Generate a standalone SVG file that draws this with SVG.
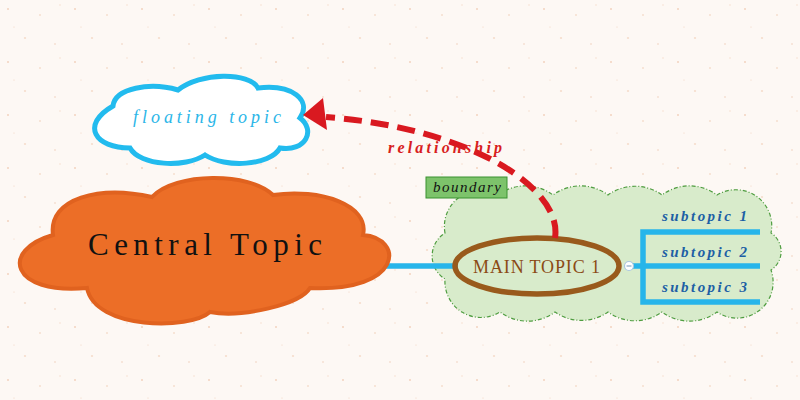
<svg xmlns="http://www.w3.org/2000/svg" width="800" height="400" viewBox="0 0 800 400">
<defs>
<pattern id="speck" width="67" height="53" patternUnits="userSpaceOnUse">
<rect width="67" height="53" fill="#fdf8f4"/>
<circle cx="8" cy="9" r="1" fill="#f3d3bf"/>
<circle cx="40" cy="15" r="0.8" fill="#f0cdb6"/>
<circle cx="25" cy="38" r="1.1" fill="#f6ddcc"/>
<circle cx="55" cy="44" r="0.8" fill="#f1d0bb"/>
<circle cx="60" cy="5" r="0.7" fill="#f5dbc9"/>
<circle cx="14" cy="27" r="0.6" fill="#f2d4c0"/>
</pattern>
<style>
.lnk{fill:none;stroke:#27b5ea;stroke-width:5.5}
.sub{font-family:"Liberation Serif",serif;font-size:15px;font-style:italic;font-weight:bold;fill:#1d5fa5}
.ser{font-family:"Liberation Serif",serif}
</style>
</defs>
<rect width="800" height="400" fill="url(#speck)"/>

<g id="boundary">
<path d="M445,233 A36,36 0 0 1 498,195 A46,46 0 0 1 553,195 A46,46 0 0 1 608,195 A46,46 0 0 1 662,195 A46,46 0 0 1 717,195 A36,36 0 0 1 771,233 A22,22 0 0 1 771,270 A36,36 0 0 1 717,312 A46,46 0 0 1 662,312 A46,46 0 0 1 608,312 A46,46 0 0 1 555,312 A46,46 0 0 1 500,312 A36,36 0 0 1 445,279 A27,27 0 0 1 445,233 Z" fill="#d8ebcb" stroke="#4f9d40" stroke-width="1.2" stroke-dasharray="4 2 1 2"/>
</g>

<g id="connectors">
<line class="lnk" x1="386" y1="266" x2="458" y2="266"/>
<line class="lnk" x1="632" y1="266" x2="643" y2="266"/>
<path class="lnk" d="M760,232 H643 V302 H760 M643,266 H760"/>
</g>

<g id="central-topic">
<path d="M53,235 C48,198 100,185 152,197 C175,172 250,172 273,195 C320,188 370,205 363,235 C404,238 404,292 310,288 C300,305 240,318 210,312 C190,330 95,330 87,288 C10,295 0,250 53,235 Z" fill="#ec6e27" stroke="#e0621f" stroke-width="4"/>
<text class="ser" x="88" y="255" font-size="31" fill="#111" textLength="234">Central Topic</text>
</g>

<g id="floating-topic">
<path d="M113,106 C115,88 150,82 178,90 C200,72 250,72 258,88 C292,84 312,100 300,118 C316,130 306,152 280,148 C270,166 225,168 205,155 C185,168 140,166 130,148 C95,148 80,125 113,106 Z" fill="#fff" stroke="#22bbee" stroke-width="5"/>
<text class="ser" x="133" y="123" font-size="18" font-style="italic" fill="#2bb6e8" textLength="148">floating topic</text>
</g>

<g id="main-topic">
<ellipse cx="537" cy="266" rx="82" ry="28" fill="none" stroke="#995a1c" stroke-width="5.5"/>
<text class="ser" x="473" y="273" font-size="18" fill="#8b4a15" textLength="127">MAIN TOPIC 1</text>
<circle cx="629" cy="266" r="4.5" fill="#fff" stroke="#a9c6e0" stroke-width="1.2"/>
<line x1="626.5" y1="266" x2="631.5" y2="266" stroke="#8aa7c4" stroke-width="1.2"/>
</g>

<g id="subtopic-1"><text class="sub" x="662" y="221" textLength="85">subtopic 1</text></g>
<g id="subtopic-2"><text class="sub" x="662" y="257" textLength="85">subtopic 2</text></g>
<g id="subtopic-3"><text class="sub" x="662" y="292" textLength="85">subtopic 3</text></g>

<g id="relationship">
<path d="M555,238 C563,188 470,128 326,117" fill="none" stroke="#d91920" stroke-width="6" stroke-dasharray="18 9"/>
<polygon points="303,115 323,98 327,130" fill="#d91920"/>
<text class="ser" x="388" y="153" font-size="16" font-style="italic" font-weight="bold" fill="#d81e1e" textLength="114">relationship</text>
</g>

<g id="boundary-label">
<rect x="426" y="177" width="81" height="21" fill="#7dc36b" stroke="#3a9230" stroke-width="1"/>
<text class="ser" x="433" y="192" font-size="15" font-style="italic" fill="#111" textLength="68">boundary</text>
</g>
</svg>
